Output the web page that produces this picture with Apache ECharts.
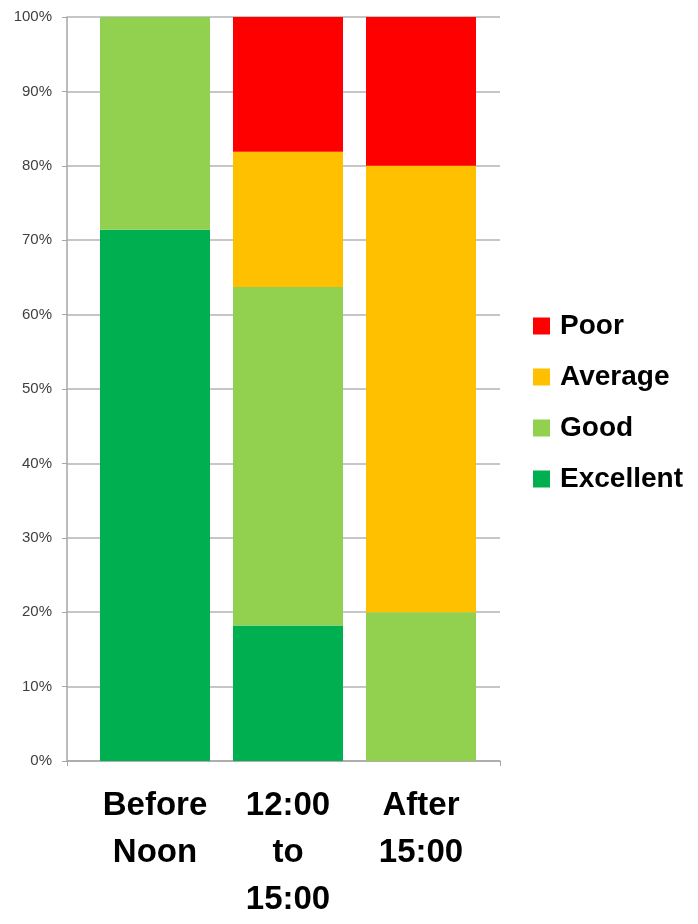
<!DOCTYPE html>
<html>
<head>
<meta charset="utf-8">
<script src="https://cdn.jsdelivr.net/npm/echarts@6/dist/echarts.min.js"></script>
<style>
html, body { margin: 0; padding: 0; background: #fff; }
#main { width: 698px; height: 924px; }
</style>
</head>
<body>
<div id="main"></div>
<script>
var categories = ['Before\nNoon', '12:00\nto\n15:00', 'After\n15:00'];
var excellent = [71.4, 18.2, 0];
var good = [28.6, 45.5, 20];
var average = [0, 18.2, 60];
var poor = [0, 18.1, 20];
var yTicks = [0, 10, 20, 30, 40, 50, 60, 70, 80, 90, 100];

var myChart = echarts.init(document.getElementById('main'));

function mkSeries(name, data, color) {
    return {
        name: name,
        type: 'bar',
        stack: 'total',
        xAxisIndex: 1,
        yAxisIndex: 1,
        barWidth: 110,
        itemStyle: { color: color },
        data: data
    };
}

var option = {
    animation: false,
    legend: {
        orient: 'vertical',
        left: 533,
        top: 311,
        padding: 0,
        itemWidth: 17,
        itemHeight: 17,
        itemGap: 21,
        icon: 'rect',
        data: ['Poor', 'Average', 'Good', 'Excellent'],
        textStyle: {
            fontFamily: 'Liberation Sans',
            fontWeight: 'bold',
            fontSize: 28,
            lineHeight: 30,
            padding: [0, 0, 0, 5],
            color: '#000'
        }
    },
    grid: [
        // axis frame + gridlines
        { left: 67, right: 198, top: 17, bottom: 163 },
        // bars
        { left: 88.5, right: 210.5, top: 17, bottom: 163 }
    ],
    xAxis: [
        {
            type: 'value', gridIndex: 0, min: 0, max: 1, interval: 1,
            axisLine: { show: true, lineStyle: { color: '#a6a6a6', width: 1.5 } },
            axisTick: { show: true, length: 5, lineStyle: { color: '#a6a6a6' } },
            axisLabel: { show: false },
            splitLine: { show: false }
        },
        {
            type: 'category', gridIndex: 1, data: categories,
            axisLine: { show: false },
            axisTick: { show: false },
            axisLabel: {
                interval: 0,
                hideOverlap: false,
                margin: 21,
                fontFamily: 'Liberation Sans',
                fontWeight: 'bold',
                fontSize: 33,
                lineHeight: 47,
                color: '#000'
            }
        }
    ],
    yAxis: [
        {
            type: 'value', gridIndex: 0, min: yTicks[0], max: yTicks[yTicks.length - 1], interval: 10,
            axisLine: { show: true, lineStyle: { color: '#a6a6a6', width: 1.5 } },
            axisTick: { show: true, length: 5, lineStyle: { color: '#a6a6a6' } },
            axisLabel: {
                formatter: '{value}%',
                margin: 15,
                fontFamily: 'Liberation Sans',
                fontSize: 15,
                color: '#404040'
            },
            splitLine: { show: true, lineStyle: { color: '#b3b3b3', width: 1.5 } }
        },
        {
            type: 'value', gridIndex: 1, min: 0, max: 100, show: false,
            splitLine: { show: false }
        }
    ],
    series: [
        mkSeries('Excellent', excellent, '#00B050'),
        mkSeries('Good', good, '#92D050'),
        mkSeries('Average', average, '#FFC000'),
        mkSeries('Poor', poor, '#FF0000')
    ]
};
myChart.setOption(option);
</script>
</body>
</html>
